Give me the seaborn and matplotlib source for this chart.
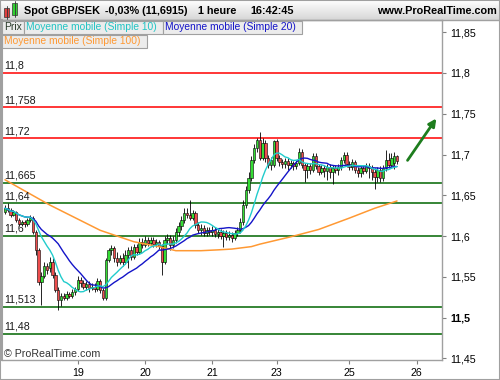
import numpy as np
import pandas as pd
import matplotlib
matplotlib.use("Agg")
import matplotlib.pyplot as plt
import matplotlib.transforms as mtransforms
from matplotlib.patches import Rectangle, FancyArrowPatch
import seaborn as sns

# ---------------- data (hourly candles, GBP/SEK) ----------------
opens = [11.629, 11.634, 11.632, 11.626, 11.629, 11.620, 11.615, 11.617, 11.615, 11.620,
         11.622, 11.605, 11.583, 11.543, 11.551, 11.563, 11.561, 11.568, 11.552, 11.534,
         11.522, 11.526, 11.524, 11.529, 11.526, 11.531, 11.535, 11.546, 11.542, 11.537,
         11.541, 11.536, 11.538, 11.535, 11.545, 11.534, 11.524, 11.571, 11.583, 11.585,
         11.573, 11.568, 11.573, 11.568, 11.577, 11.583, 11.574, 11.587, 11.580, 11.593,
         11.589, 11.595, 11.591, 11.595, 11.590, 11.593, 11.588, 11.568, 11.595, 11.598,
         11.589, 11.595, 11.605, 11.612, 11.620, 11.628, 11.626, 11.622, 11.628, 11.614,
         11.607, 11.610, 11.604, 11.607, 11.605, 11.607, 11.602, 11.605, 11.600, 11.604,
         11.599, 11.601, 11.598, 11.604, 11.607, 11.617, 11.638, 11.657, 11.671, 11.693,
         11.708, 11.718, 11.696, 11.714, 11.696, 11.687, 11.687, 11.717, 11.696, 11.691,
         11.688, 11.692, 11.687, 11.690, 11.686, 11.690, 11.703, 11.687, 11.681, 11.686,
         11.681, 11.698, 11.686, 11.678, 11.683, 11.680, 11.685, 11.678, 11.683, 11.681,
         11.685, 11.693, 11.699, 11.688, 11.685, 11.691, 11.681, 11.677, 11.683, 11.680,
         11.686, 11.683, 11.678, 11.673, 11.681, 11.671, 11.683, 11.693, 11.687, 11.690,
         11.698]
highs = [11.638, 11.640, 11.634, 11.632, 11.631, 11.622, 11.620, 11.620, 11.622, 11.626,
         11.625, 11.607, 11.585, 11.556, 11.568, 11.567, 11.574, 11.573, 11.556, 11.538,
         11.530, 11.530, 11.532, 11.531, 11.535, 11.537, 11.551, 11.550, 11.546, 11.545,
         11.545, 11.542, 11.542, 11.548, 11.547, 11.536, 11.573, 11.585, 11.589, 11.588,
         11.580, 11.577, 11.579, 11.583, 11.587, 11.588, 11.590, 11.590, 11.598, 11.598,
         11.600, 11.599, 11.599, 11.599, 11.596, 11.595, 11.590, 11.600, 11.602, 11.601,
         11.600, 11.610, 11.617, 11.625, 11.634, 11.634, 11.644, 11.632, 11.631, 11.617,
         11.615, 11.614, 11.611, 11.611, 11.612, 11.611, 11.609, 11.609, 11.607, 11.607,
         11.606, 11.605, 11.607, 11.611, 11.622, 11.644, 11.661, 11.678, 11.698, 11.713,
         11.720, 11.728, 11.720, 11.718, 11.699, 11.697, 11.718, 11.719, 11.699, 11.694,
         11.696, 11.696, 11.693, 11.692, 11.693, 11.708, 11.707, 11.690, 11.690, 11.690,
         11.702, 11.702, 11.688, 11.687, 11.687, 11.688, 11.688, 11.687, 11.687, 11.688,
         11.697, 11.703, 11.703, 11.692, 11.694, 11.693, 11.685, 11.687, 11.687, 11.690,
         11.690, 11.687, 11.683, 11.685, 11.686, 11.687, 11.706, 11.702, 11.702, 11.703,
         11.700]
lows = [11.627, 11.629, 11.623, 11.625, 11.617, 11.612, 11.612, 11.611, 11.612, 11.617,
        11.602, 11.577, 11.540, 11.515, 11.548, 11.553, 11.556, 11.548, 11.531, 11.509,
        11.514, 11.522, 11.522, 11.524, 11.524, 11.528, 11.532, 11.538, 11.535, 11.534,
        11.531, 11.534, 11.531, 11.532, 11.530, 11.522, 11.522, 11.568, 11.577, 11.568,
        11.563, 11.566, 11.563, 11.566, 11.561, 11.571, 11.572, 11.577, 11.578, 11.585,
        11.587, 11.588, 11.589, 11.587, 11.587, 11.584, 11.552, 11.566, 11.590, 11.583,
        11.585, 11.591, 11.600, 11.607, 11.616, 11.622, 11.620, 11.620, 11.610, 11.604,
        11.601, 11.600, 11.600, 11.601, 11.600, 11.599, 11.598, 11.596, 11.587, 11.595,
        11.595, 11.593, 11.595, 11.600, 11.604, 11.614, 11.634, 11.653, 11.668, 11.690,
        11.703, 11.693, 11.693, 11.691, 11.683, 11.681, 11.685, 11.692, 11.686, 11.683,
        11.683, 11.681, 11.683, 11.681, 11.682, 11.687, 11.683, 11.666, 11.671, 11.676,
        11.678, 11.682, 11.675, 11.676, 11.673, 11.669, 11.671, 11.664, 11.677, 11.675,
        11.681, 11.690, 11.685, 11.681, 11.681, 11.677, 11.672, 11.673, 11.676, 11.677,
        11.671, 11.669, 11.658, 11.666, 11.666, 11.668, 11.680, 11.683, 11.685, 11.682,
        11.688]
closes = [11.634, 11.632, 11.626, 11.629, 11.620, 11.615, 11.617, 11.615, 11.620, 11.622,
          11.605, 11.583, 11.543, 11.551, 11.563, 11.558, 11.568, 11.552, 11.534, 11.522,
          11.526, 11.524, 11.529, 11.526, 11.531, 11.535, 11.546, 11.542, 11.537, 11.541,
          11.536, 11.538, 11.535, 11.545, 11.534, 11.524, 11.571, 11.583, 11.585, 11.573,
          11.568, 11.573, 11.568, 11.577, 11.583, 11.574, 11.587, 11.580, 11.593, 11.589,
          11.595, 11.591, 11.595, 11.590, 11.593, 11.588, 11.568, 11.595, 11.598, 11.589,
          11.595, 11.605, 11.612, 11.620, 11.628, 11.626, 11.622, 11.628, 11.614, 11.607,
          11.610, 11.604, 11.607, 11.605, 11.607, 11.602, 11.605, 11.600, 11.604, 11.599,
          11.601, 11.598, 11.604, 11.607, 11.617, 11.638, 11.657, 11.671, 11.693, 11.708,
          11.718, 11.696, 11.714, 11.696, 11.687, 11.693, 11.717, 11.696, 11.691, 11.688,
          11.692, 11.687, 11.690, 11.686, 11.690, 11.703, 11.687, 11.681, 11.686, 11.681,
          11.698, 11.686, 11.678, 11.683, 11.680, 11.685, 11.678, 11.683, 11.681, 11.685,
          11.693, 11.699, 11.688, 11.685, 11.691, 11.681, 11.677, 11.683, 11.680, 11.686,
          11.683, 11.678, 11.673, 11.681, 11.671, 11.683, 11.693, 11.687, 11.696, 11.698,
          11.6915]

# 100-period moving average (bar index, value)
ma100_bars = [0, 16, 34, 46, 55, 61, 70, 76, 81, 88, 91, 102, 112, 123, 132, 140]
ma100_vals = [11.669, 11.638, 11.607, 11.593, 11.587, 11.582, 11.582, 11.583,
              11.584, 11.587, 11.590, 11.599, 11.608, 11.622, 11.634, 11.643]

resistance_levels = [11.8, 11.758, 11.72]
resistance_labels = ["11,8", "11,758", "11,72"]
support_levels = [11.665, 11.64, 11.6, 11.513, 11.48]
support_labels = ["11,665", "11,64", "11,6", "11,513", "11,48"]

day_bars = [26, 50, 74, 97, 123, 147]
day_labels = ["19", "20", "21", "23", "25", "26"]

y_ticks = [11.45, 11.5, 11.55, 11.6, 11.65, 11.7, 11.75, 11.8, 11.85]
y_tick_labels = ["11,45", "11,5", "11,55", "11,6", "11,65", "11,7", "11,75", "11,8", "11,85"]

arrow_from = (143.2, 11.690)
arrow_to = (154.6, 11.747)

title_parts = ["Spot GBP/SEK", "-0,03% (11,6915)", "1 heure", "16:42:45"]
site = "www.ProRealTime.com"

# ---------------- styling ----------------
sns.set_theme(style="white")
plt.rcParams["font.family"] = ["Liberation Sans", "DejaVu Sans"]

W, H = 500, 380
fig = plt.figure(figsize=(W / 100, H / 100), dpi=100)
fig.patch.set_facecolor("white")


def fx(px):
    return px / W


def fy(py):
    return 1 - py / H


# title bar with gradient
tax = fig.add_axes([0, fy(20), 1, 20 / H])
grad = np.linspace(1.0, 0.84, 50).reshape(-1, 1)
tax.imshow(np.dstack([grad, grad, grad]), aspect="auto", extent=[0, 1, 0, 1])
tax.set_axis_off()
fig.add_artist(plt.Line2D([0, 1], [fy(20), fy(20)], color="#a0a0a0", lw=1))

# small candle icon
fig.add_artist(Rectangle((fx(4), fy(17)), fx(5), 9 / H, facecolor="#e04040", edgecolor="#333", lw=0.5))
fig.add_artist(plt.Line2D([fx(6.5), fx(6.5)], [fy(19), fy(6)], color="#333", lw=0.6))
fig.add_artist(Rectangle((fx(12), fy(15)), fx(5), 12 / H, facecolor="#30d030", edgecolor="#333", lw=0.5))
fig.add_artist(plt.Line2D([fx(14.5), fx(14.5)], [fy(17), fy(1)], color="#333", lw=0.6))

title_x = [24, 105, 198, 250]
for t, px in zip(title_parts, title_x):
    fig.text(fx(px), fy(10.5), t, fontsize=7.8, fontweight="bold", va="center", ha="left", color="black")
fig.text(fx(497), fy(10.5), site, fontsize=7.8, fontweight="bold", va="center", ha="right", color="black")

# main axes
ax = fig.add_axes([fx(2), fy(360), fx(440), 340 / H])
ax.set_facecolor("white")

df = pd.DataFrame({"bar": np.arange(len(closes)), "open": opens, "high": highs,
                   "low": lows, "close": closes})
df["ma10"] = df["close"].rolling(10, min_periods=1).mean()
df["ma20"] = df["close"].rolling(20, min_periods=1).mean()
ma100 = pd.DataFrame({"bar": ma100_bars, "ma100": ma100_vals})

# levels
for lv in resistance_levels:
    ax.axhline(lv, color="#ff0000", lw=1.1, zorder=1)
for lv in support_levels:
    ax.axhline(lv, color="#006400", lw=1.1, zorder=1)
lbl_trans = mtransforms.blended_transform_factory(ax.transAxes, ax.transData)
for lv, lab in zip(resistance_levels + support_levels, resistance_labels + support_labels):
    ax.annotate(lab, xy=(0.006, lv), xycoords=lbl_trans, xytext=(0, 1.5), textcoords="offset points",
                fontsize=7.7, color="#1a1a1a", va="bottom", ha="left", zorder=6)

# candles
up = df["close"] >= df["open"]
ax.vlines(df["bar"], df["low"], df["high"], color="black", lw=0.6, zorder=3)
ax.bar(df["bar"][up], (df["close"] - df["open"])[up], bottom=df["open"][up], width=0.8,
       color="#33dd33", edgecolor="black", linewidth=0.4, zorder=4)
ax.bar(df["bar"][~up], (df["close"] - df["open"])[~up], bottom=df["open"][~up], width=0.8,
       color="#ee4d4d", edgecolor="black", linewidth=0.4, zorder=4)

# moving averages
sns.lineplot(data=ma100, x="bar", y="ma100", ax=ax, color="#ff9933", lw=1.1, zorder=5)
sns.lineplot(data=df, x="bar", y="ma20", ax=ax, color="#1414c8", lw=1.0, zorder=5)
sns.lineplot(data=df, x="bar", y="ma10", ax=ax, color="#22cccc", lw=1.0, zorder=5)

# arrow
ax.add_patch(FancyArrowPatch(arrow_from, arrow_to, arrowstyle="-|>", mutation_scale=11,
                             color="#1e7d1e", lw=2.0, zorder=7))

ax.set_xlim(-1.07, 156.07)
ax.set_ylim(11.4479, 11.865)
ax.set_xlabel("")
ax.set_ylabel("")

ax.set_xticks(day_bars)
ax.set_xticklabels(day_labels)
ax.yaxis.tick_right()
ax.set_yticks(y_ticks)
ax.set_yticklabels(y_tick_labels)
for lab in ax.get_yticklabels():
    if lab.get_text() == "11,5":
        lab.set_fontweight("bold")
ax.tick_params(axis="y", which="both", right=True, left=False, length=3, width=0.8,
               color="#808080", pad=3, labelsize=7.7, labelcolor="black")
ax.tick_params(axis="x", which="both", bottom=True, length=3, width=0.8,
               color="#808080", pad=3, labelsize=7.7, labelcolor="black")
for s in ax.spines.values():
    s.set_color("#a0a0a0")
    s.set_linewidth(1.0)
ax.spines["left"].set_linewidth(1.5)

# legend boxes
def legend_box(x0, y0, x1, y1, text, color):
    fig.add_artist(Rectangle((fx(x0), fy(y1)), fx(x1 - x0), (y1 - y0) / H,
                             facecolor="#ececec", edgecolor="#a0a0a0", lw=0.8, zorder=10))
    fig.text(fx(x0 + 2), fy((y0 + y1) / 2), text, fontsize=7.4, color=color,
             va="center", ha="left", zorder=11)

legend_box(2, 21, 24, 34, "Prix", "#2a3a2a")
legend_box(24, 21, 163, 34, "Moyenne mobile (Simple 10)", "#22c4c4")
legend_box(163, 21, 302, 34, "Moyenne mobile (Simple 20)", "#1414c8")
legend_box(2, 35, 147, 48, "Moyenne mobile (Simple 100)", "#ff9933")

# watermark
fig.text(fx(4), fy(354), "\u00a9 ProRealTime.com", fontsize=7.7, color="#333333", va="center", ha="left")

# outer frame
fig.add_artist(Rectangle((0, 0), 1, 1, facecolor="none", edgecolor="#a0a0a0", lw=1.5))

fig.savefig("out.png", dpi=100)
